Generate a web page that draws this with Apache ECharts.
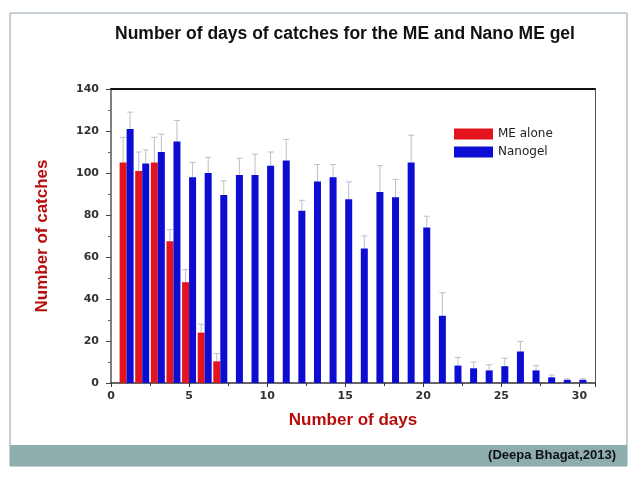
<!DOCTYPE html>
<html>
<head>
<meta charset="utf-8">
<script src="https://cdn.jsdelivr.net/npm/echarts@6/dist/echarts.min.js"></script>
<style>
html,body{margin:0;padding:0;background:#fff;}
#chart{width:638px;height:479px;}
</style>
</head>
<body>
<div id="chart"></div>
<script>
// ---- data ----
const meDays = [1, 2, 3, 4, 5, 6, 7];
const meValues = [105, 101, 105, 67.5, 48, 24, 10.3];
const meErrors = [12, 9, 12, 5.5, 6, 4, 3.7];

const nanoDays = [1,2,3,4,5,6,7,8,9,10,11,12,13,14,15,16,17,18,19,20,21,22,23,24,25,26,27,28,29,30];
const nanoValues = [121,104.5,110,115,98,100,89.5,99,99,103.5,106,82,96,98,87.5,64,91,88.5,105,74,32,8.3,7,6,8,15,6,2.7,1.5,1.5];
const nanoErrors = [8,6.5,8.5,10,7,7.5,6.8,8,10,6.5,10,5,8,6,8.3,6,12.5,8.5,13,5.4,11,3.9,3,2.7,3.8,4.8,2.3,1.1,0.5,0.5];

const seriesNames = ['ME alone', 'Nanogel'];
const titleText = 'Number of days of catches for the ME and Nano ME gel';
const xName = 'Number of days';
const yName = 'Number of catches';
const sourceText = '(Deepa Bhagat,2013)';

// ---- style ----
const RED = '#e3141d';
const BLUE = '#0c0cd2';
const DARKRED = '#b80d0d';
const BAR_W = 7;

function pairs(xs, ys) { return xs.map((x, i) => [x, ys[i]]); }
function errData(xs, ys, es) { return xs.map((x, i) => [x, ys[i], ys[i] + es[i]]); }

function errRender(offset) {
  return function (params, api) {
    const x = api.value(0), y = api.value(1), top = api.value(2);
    const p0 = api.coord([x, y]);
    const p1 = api.coord([x, top]);
    const cx = p0[0] + offset;
    const style = { stroke: '#bdbdcf', lineWidth: 1 };
    return {
      type: 'group',
      children: [
        { type: 'line', shape: { x1: cx, y1: p0[1], x2: cx, y2: p1[1] }, style: style },
        { type: 'line', shape: { x1: cx - 3, y1: p1[1], x2: cx + 3, y2: p1[1] }, style: style }
      ]
    };
  };
}

const chart = echarts.init(document.getElementById('chart'));
const labelFont = { fontFamily: 'DejaVu Sans, sans-serif', fontWeight: 'bold', fontSize: 11, color: '#333' };

chart.setOption({
  animation: false,
  backgroundColor: '#fff',
  title: {
    text: titleText,
    left: 340, top: 20, textAlign: 'center',
    textStyle: { fontFamily: 'Liberation Sans, Arial, sans-serif', fontWeight: 'bold', fontSize: 17.5, color: '#111' }
  },
  graphic: [
    { type: 'rect', shape: { x: 10, y: 13, width: 617, height: 453 }, style: { fill: 'none', stroke: '#8aa2ad', lineWidth: 1 }, z: -10 },
    { type: 'rect', shape: { x: 10, y: 445, width: 617, height: 21 }, style: { fill: '#8eaead' }, z: -9 },
    { type: 'text', right: 22, top: 449, style: { text: sourceText, font: 'bold 13px "Liberation Sans", Arial, sans-serif', fill: '#111' } }
  ],
  legend: {
    orient: 'vertical', left: 449, top: 123,
    itemWidth: 39, itemHeight: 11, itemGap: 6,
    icon: 'rect',
    data: seriesNames,
    textStyle: { fontFamily: 'DejaVu Sans, sans-serif', fontSize: 12, color: '#222' }
  },
  grid: { left: 111, right: 43, top: 89, bottom: 96 },
  xAxis: [{
    type: 'value', min: 0, max: 31, interval: 5,
    name: xName, nameLocation: 'middle', nameGap: 29,
    nameTextStyle: { fontFamily: 'Liberation Sans, Arial, sans-serif', fontWeight: 'bold', fontSize: 17, color: DARKRED },
    axisLine: { show: true, lineStyle: { color: '#333', width: 1.5 } },
    axisTick: { show: true, length: 4, inside: false, lineStyle: { color: '#333' } },
    minorTick: { show: true, splitNumber: 2, length: 3, lineStyle: { color: '#333' } },
    axisLabel: Object.assign({ margin: 8, showMaxLabel: false }, labelFont),
    splitLine: { show: false }
  }, {
    type: 'value', min: 0, max: 31, position: 'top',
    axisLine: { show: true, onZero: false, lineStyle: { color: '#111', width: 2 } },
    axisTick: { show: false }, axisLabel: { show: false }, splitLine: { show: false }
  }],
  yAxis: [{
    type: 'value', min: 0, max: 140, interval: 20,
    name: yName, nameLocation: 'middle', nameGap: 60, nameRotate: 90,
    nameTextStyle: { fontFamily: 'Liberation Sans, Arial, sans-serif', fontWeight: 'bold', fontSize: 17, color: DARKRED },
    axisLine: { show: true, lineStyle: { color: '#555', width: 1.5 } },
    axisTick: { show: true, length: 5, lineStyle: { color: '#444' } },
    minorTick: { show: true, splitNumber: 2, length: 3, lineStyle: { color: '#666' } },
    axisLabel: Object.assign({ margin: 12 }, labelFont),
    splitLine: { show: false }
  }, {
    type: 'value', min: 0, max: 140, position: 'right',
    axisLine: { show: true, onZero: false, lineStyle: { color: '#555', width: 1 } },
    axisTick: { show: false }, axisLabel: { show: false }, splitLine: { show: false }
  }],
  series: [
    { name: seriesNames[0], type: 'bar', data: pairs(meDays, meValues), barWidth: BAR_W, barGap: '0%', itemStyle: { color: RED } },
    { name: seriesNames[1], type: 'bar', data: pairs(nanoDays, nanoValues), barWidth: BAR_W, barGap: '0%', itemStyle: { color: BLUE } },
    { type: 'custom', renderItem: errRender(-BAR_W / 2), data: errData(meDays, meValues, meErrors), z: 1, silent: true },
    { type: 'custom', renderItem: errRender(BAR_W / 2), data: errData(nanoDays, nanoValues, nanoErrors), z: 1, silent: true }
  ]
});
</script>
</body>
</html>
